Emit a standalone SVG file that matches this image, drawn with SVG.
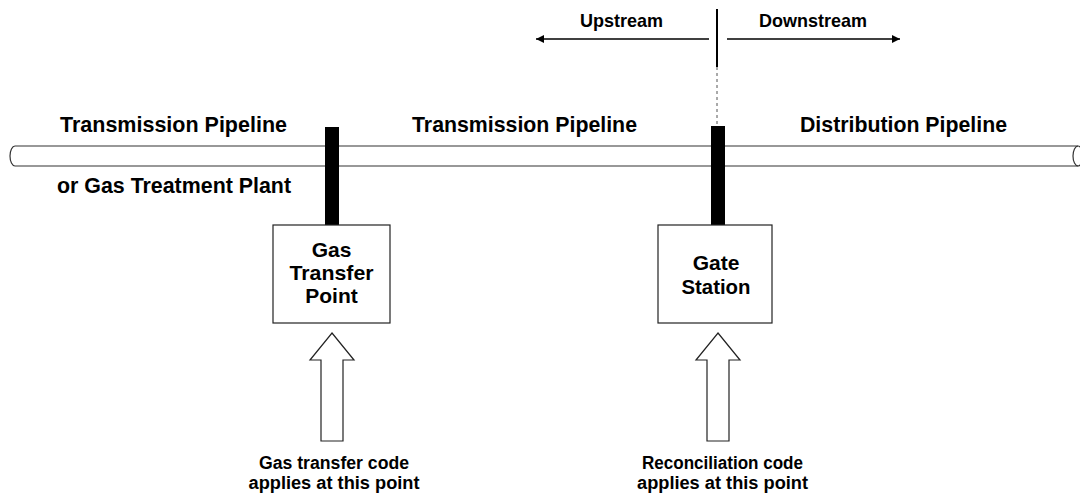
<svg xmlns="http://www.w3.org/2000/svg" width="1080" height="497" viewBox="0 0 1080 497">
<defs>
<style>
text{font-family:"Liberation Sans",Arial,sans-serif;font-weight:bold;fill:#000}
.lbl{font-size:22.5px}
.box{fill:#fff;stroke:#222;stroke-width:1.2}
.bt{font-size:21px;text-anchor:middle}
.note{font-size:18px;text-anchor:middle}
.dir{font-size:18.5px;text-anchor:middle}
.pipe{fill:none;stroke:#333;stroke-width:1.2}
.bar{fill:#000}
.hollow{fill:#fff;stroke:#222;stroke-width:1.2}
</style>
<marker id="ah" viewBox="0 0 10 10" refX="10" refY="5" markerWidth="10" markerHeight="8" markerUnits="userSpaceOnUse" orient="auto">
<path d="M0,0 L10,5 L0,10 z" fill="#000"/>
</marker>
</defs>
<rect width="1080" height="497" fill="#fff"/>
<g id="pipeline">
<path class="pipe" d="M15,146 L1078,146 M15,166 L1078,166 M15,146 A5,10 0 0 0 15,166"/>
<ellipse class="pipe" cx="1078" cy="156" rx="5" ry="10"/>
</g>
<g id="labels">
<text class="lbl" x="60" y="132" textLength="227" lengthAdjust="spacingAndGlyphs">Transmission Pipeline</text>
<text class="lbl" x="57" y="193" textLength="234" lengthAdjust="spacingAndGlyphs">or Gas Treatment Plant</text>
<text class="lbl" x="412" y="132" textLength="225" lengthAdjust="spacingAndGlyphs">Transmission Pipeline</text>
<text class="lbl" x="800" y="132" textLength="207" lengthAdjust="spacingAndGlyphs">Distribution Pipeline</text>
</g>
<g id="direction">
<line x1="717" y1="9" x2="717" y2="67" stroke="#000" stroke-width="2"/>
<line x1="717" y1="67" x2="717" y2="126" stroke="#555" stroke-width="1" stroke-dasharray="3,3"/>
<text class="dir" x="621.5" y="27" textLength="83" lengthAdjust="spacingAndGlyphs">Upstream</text>
<text class="dir" x="813" y="27" textLength="108" lengthAdjust="spacingAndGlyphs">Downstream</text>
</g>
<g id="connectors">
<line x1="709" y1="39" x2="536" y2="39" stroke="#000" stroke-width="1.5" marker-end="url(#ah)"/>
<line x1="727" y1="39" x2="900" y2="39" stroke="#000" stroke-width="1.5" marker-end="url(#ah)"/>
<rect class="bar" x="325" y="127" width="14" height="98"/>
<rect class="bar" x="711" y="126" width="14" height="99"/>
</g>
<g id="gas-transfer-point">
<rect class="box" x="273" y="225" width="117" height="98"/>
<text class="bt" x="331.5" y="257">Gas</text>
<text class="bt" x="331.5" y="280" textLength="84" lengthAdjust="spacingAndGlyphs">Transfer</text>
<text class="bt" x="331.5" y="303">Point</text>
</g>
<g id="gate-station">
<rect class="box" x="658" y="225" width="114" height="98"/>
<text class="bt" x="716" y="270">Gate</text>
<text class="bt" x="716" y="294" textLength="69" lengthAdjust="spacingAndGlyphs">Station</text>
</g>
<g id="gas-transfer-note">
<path class="hollow" d="M332,333 L354,360 L343,360 L343,441 L321,441 L321,360 L310,360 Z"/>
<text class="note" x="334" y="468.5" textLength="150" lengthAdjust="spacingAndGlyphs">Gas transfer code</text>
<text class="note" x="334" y="489" textLength="171" lengthAdjust="spacingAndGlyphs">applies at this point</text>
</g>
<g id="reconciliation-note">
<path class="hollow" d="M718,333 L740,360 L729,360 L729,441 L707,441 L707,360 L696,360 Z"/>
<text class="note" x="722.5" y="468.5" textLength="161" lengthAdjust="spacingAndGlyphs">Reconciliation code</text>
<text class="note" x="722.5" y="489" textLength="171" lengthAdjust="spacingAndGlyphs">applies at this point</text>
</g>
</svg>
